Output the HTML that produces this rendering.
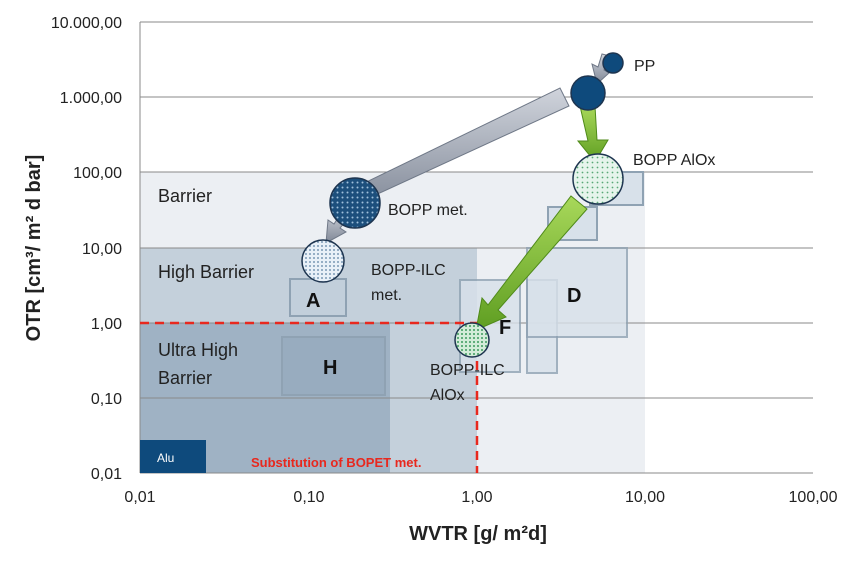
<!DOCTYPE html>
<html><head><meta charset="utf-8"><style>
body{margin:0;background:#fff;width:855px;height:564px;overflow:hidden;font-family:"Liberation Sans",sans-serif}
</style></head><body>
<svg width="855" height="564" xmlns="http://www.w3.org/2000/svg" font-family="Liberation Sans, sans-serif">
<defs>
<pattern id="dd" width="5" height="5" patternUnits="userSpaceOnUse"><rect width="5" height="5" fill="#1c4f7c"/><circle cx="2.5" cy="2.5" r="1" fill="#9fc0dc"/></pattern>
<pattern id="lb" width="4" height="4" patternUnits="userSpaceOnUse"><rect width="4" height="4" fill="#e8f0f8"/><circle cx="2" cy="2" r="0.9" fill="#5a7fa0"/></pattern>
<pattern id="lg" width="5" height="5" patternUnits="userSpaceOnUse"><rect width="5" height="5" fill="#e6f4ec"/><circle cx="2.5" cy="2.5" r="0.9" fill="#59a877"/></pattern>
<pattern id="gg" width="4" height="4" patternUnits="userSpaceOnUse"><rect width="4" height="4" fill="#d3ecd9"/><circle cx="2" cy="2" r="1" fill="#3d9a5e"/></pattern>
<linearGradient id="gr" x1="0" y1="0" x2="0" y2="1"><stop offset="0" stop-color="#d0d4dc"/><stop offset="1" stop-color="#7f8796"/></linearGradient>
<linearGradient id="gn" x1="0" y1="0" x2="0" y2="1"><stop offset="0" stop-color="#a8d85a"/><stop offset="1" stop-color="#5f9e22"/></linearGradient>
</defs>
<rect x="140" y="172" width="505" height="301" fill="#eceff3"/>
<rect x="140" y="248" width="337" height="225" fill="#c4d0db"/>
<rect x="140" y="323" width="250" height="150" fill="#9fb2c4"/>
<g stroke="#8a8a8a" stroke-width="1">
<line x1="140" y1="22" x2="813" y2="22"/><line x1="140" y1="97" x2="813" y2="97"/><line x1="140" y1="172" x2="813" y2="172"/><line x1="140" y1="248" x2="813" y2="248"/><line x1="140" y1="323" x2="813" y2="323"/><line x1="140" y1="398" x2="813" y2="398"/>
<line x1="140" y1="473" x2="813" y2="473"/><line x1="140" y1="22" x2="140" y2="473"/>
</g>
<rect x="140" y="440" width="66" height="33" fill="#0e4a7c"/>
<text x="157" y="462" font-size="12" fill="#fff">Alu</text>
<g fill="#d8e1ea" stroke="#8fa2b3" stroke-width="2">
<rect x="290" y="279" width="56" height="37" fill="#c2cfdb"/>
<rect x="282" y="337" width="103" height="58" fill="#98acbf"/>
<rect x="460" y="280" width="60" height="92" opacity=".8"/>
<rect x="527" y="280" width="30" height="93" opacity=".8"/>
<rect x="527" y="248" width="100" height="89" opacity=".8"/>
<rect x="548" y="207" width="49" height="33"/>
<rect x="590" y="172" width="53" height="33"/>
</g>
<g font-weight="bold" font-size="20" fill="#111">
<text x="306" y="307">A</text><text x="323" y="374">H</text><text x="567" y="302">D</text><text x="499" y="334">F</text>
</g>
<g font-size="18" fill="#222">
<text x="158" y="202">Barrier</text><text x="158" y="278">High Barrier</text>
<text x="158" y="356">Ultra High</text><text x="158" y="384">Barrier</text>
</g>
<g font-size="16" fill="#222">
<text x="371" y="275">BOPP-ILC</text><text x="371" y="300">met.</text>
<text x="388" y="215">BOPP met.</text>
<text x="634" y="71">PP</text><text x="633" y="165">BOPP AlOx</text>
<text x="430" y="375">BOPP-ILC</text><text x="430" y="400">AlOx</text>
</g>
<g stroke="#e8281e" stroke-width="2.5" stroke-dasharray="9,6" fill="none"><path d="M140 323 H477 V473"/></g>
<text x="251" y="467" font-size="13" font-weight="bold" fill="#e8281e">Substitution of BOPET met.</text>
<g stroke="#6f7887" stroke-width="1">
<polygon points="560,88 569,106 358,203 364,214 332,203 346,182 350,190" fill="url(#gr)"/>
<polygon points="350,216 340,228 346,232 326,243 328,220 334,224 343,210" fill="url(#gr)"/>
<polygon points="610,56 604,70 609,73 597,84 592,64 598,67 602,54" fill="url(#gr)"/>
</g>
<g stroke="#4f8a1a" stroke-width="1">
<polygon points="580,106 595,106 597,140 608,140 595,162 578,141 588,141" fill="url(#gn)"/>
<polygon points="571,196 587,209 498,310 506,317 476,330 482,298 488,305" fill="url(#gn)"/>
</g>
<g stroke="#1e3550" stroke-width="1.5">
<circle cx="613" cy="63" r="10" fill="#0e4a7c"/>
<circle cx="588" cy="93" r="17" fill="#0e4a7c"/>
<circle cx="598" cy="179" r="25" fill="url(#lg)"/>
<circle cx="355" cy="203" r="25" fill="url(#dd)"/>
<circle cx="323" cy="261" r="21" fill="url(#lb)"/>
<circle cx="472" cy="340" r="17" fill="url(#gg)"/>
</g>
<g font-size="16" fill="#222" text-anchor="end">
<text x="122" y="28">10.000,00</text><text x="122" y="103">1.000,00</text><text x="122" y="178">100,00</text><text x="122" y="254">10,00</text><text x="122" y="329">1,00</text><text x="122" y="404">0,10</text><text x="122" y="479">0,01</text>
</g>
<g font-size="16" fill="#222" text-anchor="middle">
<text x="140" y="502">0,01</text><text x="309" y="502">0,10</text><text x="477" y="502">1,00</text><text x="645" y="502">10,00</text><text x="813" y="502">100,00</text>
</g>
<text x="478" y="540" font-size="20" font-weight="bold" fill="#222" text-anchor="middle">WVTR [g/ m²d]</text>
<text transform="translate(40,248) rotate(-90)" font-size="20" font-weight="bold" fill="#222" text-anchor="middle">OTR [cm³/ m² d bar]</text>
</svg>
</body></html>
